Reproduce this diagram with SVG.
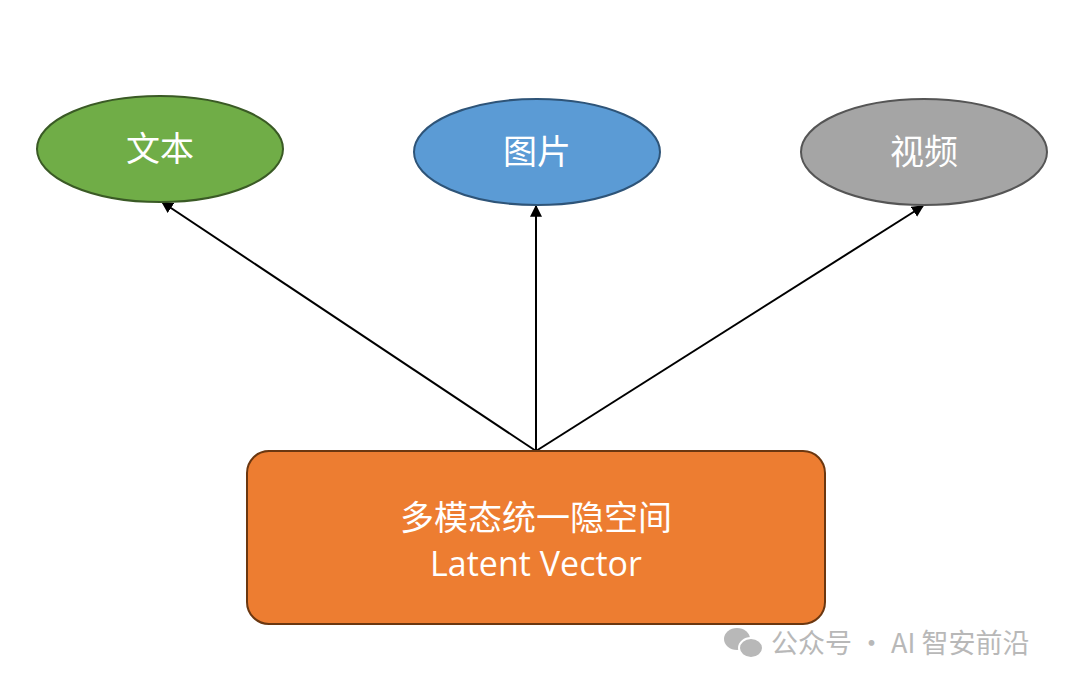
<svg xmlns="http://www.w3.org/2000/svg" width="1080" height="687" viewBox="0 0 1080 687">
<style>
.lbl{font-family:"Noto Sans CJK SC","Noto Sans",sans-serif;font-size:34px;fill:#fff;text-anchor:middle}
.e{stroke-width:2}
.c{stroke:#000;stroke-width:2;fill:none;marker-end:url(#a)}
</style>
<defs><marker id="a" viewBox="0 0 10 10" refX="9" refY="5" markerWidth="6" markerHeight="6" orient="auto"><path d="M0,0L10,5L0,10z" fill="#000"/></marker></defs>
<rect width="1080" height="687" fill="#fff"/>
<g id="connectors">
<line class="c" x1="536" y1="451" x2="162" y2="202"/>
<line class="c" x1="536" y1="451" x2="536" y2="206"/>
<line class="c" x1="536" y1="451" x2="923" y2="206"/>
</g>
<g id="text-node"><ellipse class="e" cx="160" cy="149" rx="123" ry="53" fill="#70ad47" stroke="#3a5a25"/><text class="lbl" x="160" y="161">文本</text></g>
<g id="image-node"><ellipse class="e" cx="537" cy="152" rx="123" ry="53" fill="#5b9bd5" stroke="#2e5478"/><text class="lbl" x="537" y="164">图片</text></g>
<g id="video-node"><ellipse class="e" cx="924" cy="152" rx="123" ry="53" fill="#a5a5a5" stroke="#555"/><text class="lbl" x="924" y="164">视频</text></g>
<g id="latent-node"><rect x="247" y="451" width="578" height="173" rx="22" fill="#ed7d31" stroke="#6b3710" stroke-width="2"/>
<text class="lbl" x="536" y="530">多模态统一隐空间</text>
<text class="lbl" x="536" y="576" style="font-family:'Open Sans','Noto Sans',sans-serif">Latent Vector</text></g>
<g id="watermark" fill="#b8b8b8">
<ellipse cx="737" cy="639" rx="13" ry="11"/><ellipse cx="751" cy="648" rx="12" ry="10" stroke="#fff" stroke-width="2"/>
<text x="771" y="653" style="font-family:'Noto Sans CJK SC',sans-serif;font-size:27px">公众号 · AI 智安前沿</text>
</g>
</svg>
